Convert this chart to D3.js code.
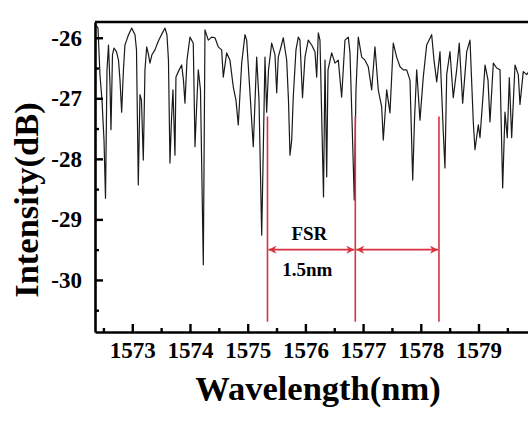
<!DOCTYPE html>
<html>
<head>
<meta charset="utf-8">
<script src="https://cdn.jsdelivr.net/npm/d3@7"></script>
<style>
  html, body { margin: 0; padding: 0; background: #fff; }
  svg { display: block; }
  text { font-family: "Liberation Serif", "Times New Roman", serif; font-weight: bold; fill: #000; }
</style>
</head>
<body>
<svg id="chart" width="528" height="423"></svg>
<script>
// ---- data ----
const wavelength = [
  1572.371, 1572.406, 1572.440, 1572.475, 1572.510, 1572.536, 1572.562, 1572.588, 1572.614, 1572.631,
  1572.657, 1572.683, 1572.726, 1572.761, 1572.787, 1572.816, 1572.847, 1572.873, 1572.903, 1572.934,
  1572.960, 1572.990, 1573.021, 1573.047, 1573.073, 1573.104, 1573.133, 1573.159, 1573.191, 1573.220,
  1573.250, 1573.281, 1573.307, 1573.341, 1573.393, 1573.445, 1573.480, 1573.523, 1573.567, 1573.601,
  1573.627, 1573.653, 1573.679, 1573.705, 1573.740, 1573.757, 1573.797, 1573.856, 1573.887, 1573.913,
  1573.948, 1574.000, 1574.057, 1574.087, 1574.113, 1574.144, 1574.182, 1574.231, 1574.260, 1574.317,
  1574.376, 1574.433, 1574.490, 1574.549, 1574.577, 1574.636, 1574.693, 1574.750, 1574.797, 1574.837,
  1574.896, 1574.953, 1574.983, 1575.040, 1575.097, 1575.156, 1575.196, 1575.243, 1575.300, 1575.329,
  1575.361, 1575.416, 1575.473, 1575.503, 1575.530, 1575.586, 1575.617, 1575.676, 1575.707, 1575.733,
  1575.763, 1575.790, 1575.837, 1575.877, 1575.906, 1575.950, 1575.993, 1576.050, 1576.109, 1576.166,
  1576.196, 1576.224, 1576.253, 1576.283, 1576.314, 1576.340, 1576.369, 1576.392, 1576.456, 1576.513,
  1576.570, 1576.629, 1576.686, 1576.744, 1576.773, 1576.808, 1576.847, 1576.877, 1576.917, 1576.976,
  1577.033, 1577.090, 1577.149, 1577.206, 1577.263, 1577.322, 1577.350, 1577.409, 1577.466, 1577.523,
  1577.582, 1577.640, 1577.697, 1577.756, 1577.813, 1577.860, 1577.891, 1577.929, 1577.986, 1578.043,
  1578.102, 1578.189, 1578.229, 1578.276, 1578.333, 1578.390, 1578.419, 1578.449, 1578.506, 1578.563,
  1578.622, 1578.667, 1578.726, 1578.796, 1578.853, 1578.910, 1578.939, 1578.997, 1579.026, 1579.083,
  1579.113, 1579.165, 1579.199, 1579.257, 1579.315, 1579.373, 1579.419, 1579.459, 1579.499, 1579.534,
  1579.575, 1579.633, 1579.690, 1579.719, 1579.776, 1579.835, 1579.893
];
const intensity = [
  -25.79, -25.84, -26.61, -27.03, -27.69, -28.65, -26.53, -26.12, -26.78, -27.52,
  -26.28, -26.17, -26.23, -26.37, -26.70, -27.23, -26.53, -26.12, -26.04, -25.95,
  -25.90, -25.84, -25.90, -25.95, -26.20, -28.43, -26.94, -27.03, -28.02, -26.53,
  -26.15, -26.28, -26.42, -26.28, -26.20, -26.07, -26.00, -25.92, -25.84, -25.95,
  -26.37, -28.07, -27.36, -26.86, -27.94, -26.65, -26.56, -26.45, -26.70, -27.08,
  -26.37, -25.99, -26.09, -27.80, -27.19, -26.53, -26.86, -29.75, -25.87, -26.04,
  -25.99, -26.00, -26.15, -26.20, -26.65, -26.25, -26.37, -26.81, -27.03, -27.44,
  -26.42, -25.95, -26.04, -26.91, -27.80, -26.32, -27.03, -29.26, -26.32, -27.23,
  -26.53, -26.09, -26.28, -26.91, -26.32, -26.12, -26.00, -26.37, -27.03, -27.94,
  -27.69, -26.98, -26.20, -25.99, -26.04, -26.99, -26.32, -26.04, -26.12, -26.23,
  -26.65, -25.92, -26.04, -27.31, -28.63, -26.37, -28.30, -26.53, -26.25, -26.42,
  -26.37, -26.98, -26.04, -25.99, -26.25, -27.36, -28.68, -26.86, -25.99, -26.32,
  -26.37, -26.48, -26.86, -26.15, -26.86, -27.14, -27.69, -26.86, -27.24, -26.09,
  -26.32, -26.48, -26.53, -26.53, -26.70, -28.35, -27.36, -26.53, -27.36, -26.65,
  -26.12, -25.95, -26.37, -26.73, -26.23, -27.56, -28.15, -26.61, -26.23, -26.99,
  -26.53, -26.09, -27.08, -26.23, -26.04, -27.39, -27.85, -27.44, -27.65, -26.90,
  -26.45, -26.70, -27.39, -26.42, -26.50, -26.53, -28.48, -27.23, -27.65, -26.66,
  -27.65, -26.45, -26.61, -27.10, -26.56, -26.61, -26.53
];
const xTicks = [1573, 1574, 1575, 1576, 1577, 1578, 1579];
const xMinorTicks = [1572.5, 1573.5, 1574.5, 1575.5, 1576.5, 1577.5, 1578.5, 1579.5];
const yTicks = [-26, -27, -28, -29, -30];
const yMinorTicks = [-26.5, -27.5, -28.5, -29.5, -30.5];
const fsrLines = [1575.343, 1576.865, 1578.315];
const fsrLineTop = -27.30;
const fsrLineBottom = -30.69;
const fsrArrowLevel = -29.5;
const fsrText = ["FSR", "1.5nm"];
const xTitle = "Wavelength(nm)";
const yTitle = "Intensity(dB)";

// ---- layout ----
const svg = d3.select("#chart");
const red = "#d8313d";

const x = d3.scaleLinear().domain([1572.354, 1579.858]).range([95, 528]);
const y = d3.scaleLinear().domain([-30.86, -25.74]).range([332, 22]);

// data line
const pts = wavelength.map((w, i) => [w, intensity[i]]);
svg.append("path")
  .datum(pts)
  .attr("fill", "none")
  .attr("stroke", "#1a1a1a")
  .attr("stroke-width", 1.2)
  .attr("stroke-linejoin", "round")
  .attr("d", d3.line().x(d => x(d[0])).y(d => y(d[1])));

// FSR red lines
svg.selectAll("line.fsr").data(fsrLines).enter().append("line")
  .attr("class", "fsr")
  .attr("x1", d => x(d)).attr("x2", d => x(d))
  .attr("y1", y(fsrLineTop)).attr("y2", y(fsrLineBottom))
  .attr("stroke", red).attr("stroke-width", 1.6);

// arrow markers
const defs = svg.append("defs");
defs.append("marker")
  .attr("id", "arrow")
  .attr("viewBox", "0 0 10 10")
  .attr("refX", 10).attr("refY", 5)
  .attr("markerWidth", 11).attr("markerHeight", 8)
  .attr("markerUnits", "userSpaceOnUse")
  .attr("orient", "auto-start-reverse")
  .append("path").attr("d", "M0,0 L10,5 L0,10 L3,5 Z").attr("fill", red);

const spans = d3.pairs(fsrLines);
svg.selectAll("line.arrow").data(spans).enter().append("line")
  .attr("class", "arrow")
  .attr("x1", d => x(d[0]) + 1).attr("x2", d => x(d[1]) - 1)
  .attr("y1", y(fsrArrowLevel)).attr("y2", y(fsrArrowLevel))
  .attr("stroke", red).attr("stroke-width", 1.8)
  .attr("marker-start", "url(#arrow)").attr("marker-end", "url(#arrow)");

const midX = (x(fsrLines[0]) + x(fsrLines[1])) / 2;
svg.append("text").attr("x", midX - 2).attr("y", y(fsrArrowLevel) - 10)
  .attr("text-anchor", "middle").attr("font-size", 19).text(fsrText[0]);
svg.append("text").attr("x", midX - 4).attr("y", y(fsrArrowLevel) + 26)
  .attr("text-anchor", "middle").attr("font-size", 19).text(fsrText[1]);

// axes
const xAxis = svg.append("g").attr("transform", `translate(0,${y.range()[0]})`)
  .call(d3.axisBottom(x).tickValues(xTicks).tickFormat(d3.format("d"))
    .tickSizeInner(-8).tickSizeOuter(0).tickPadding(10));
xAxis.select(".domain").attr("stroke-width", 2.6);
xAxis.selectAll(".tick line").attr("stroke-width", 2.4);
xAxis.selectAll("text").attr("font-size", 23).attr("font-family", null);

const xMinor = svg.append("g").attr("transform", `translate(0,${y.range()[0]})`)
  .call(d3.axisBottom(x).tickValues(xMinorTicks).tickFormat("").tickSizeInner(-4).tickSizeOuter(0));
xMinor.select(".domain").remove();
xMinor.selectAll(".tick line").attr("stroke-width", 2.4);

const yAxis = svg.append("g").attr("transform", `translate(${x.range()[0]},0)`)
  .call(d3.axisLeft(y).tickValues(yTicks).tickFormat(d3.format("d"))
    .tickSizeInner(-8).tickSizeOuter(0).tickPadding(13));
yAxis.select(".domain").attr("stroke-width", 2.6);
yAxis.selectAll(".tick line").attr("stroke-width", 2.4);
yAxis.selectAll("text").attr("font-size", 23).attr("font-family", null)
  .text(d => "-" + Math.abs(d));

const yMinor = svg.append("g").attr("transform", `translate(${x.range()[0]},0)`)
  .call(d3.axisLeft(y).tickValues(yMinorTicks).tickFormat("").tickSizeInner(-4).tickSizeOuter(0));
yMinor.select(".domain").remove();
yMinor.selectAll(".tick line").attr("stroke-width", 2.4);

// top frame
svg.append("line")
  .attr("x1", x.range()[0]).attr("x2", x.range()[1])
  .attr("y1", y.range()[1]).attr("y2", y.range()[1])
  .attr("stroke", "#000").attr("stroke-width", 2.4);

// titles
svg.append("text").attr("x", 318).attr("y", 400)
  .attr("text-anchor", "middle").attr("font-size", 34.5).text(xTitle);
svg.append("text")
  .attr("transform", "translate(38,200) rotate(-90)")
  .attr("text-anchor", "middle").attr("font-size", 34.5).text(yTitle);
</script>
</body>
</html>
